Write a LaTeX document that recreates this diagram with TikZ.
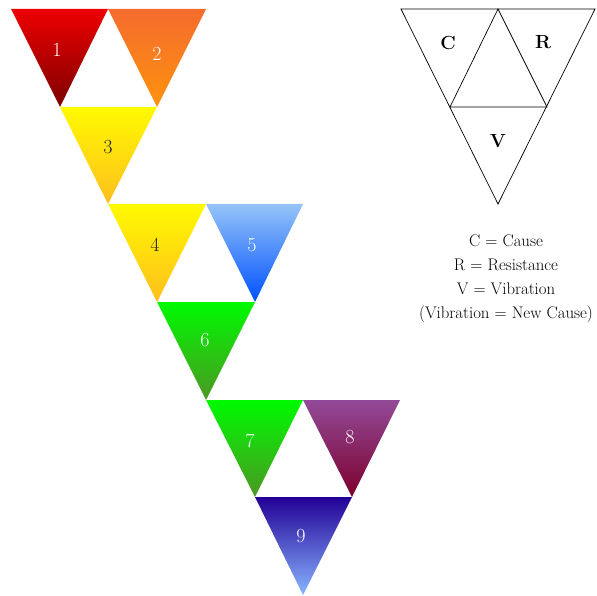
\documentclass[tikz,border=0pt]{standalone}
\usetikzlibrary{shadings}
\tikzset{
  tri/.style={shading=axis, shading angle=0},
  numw/.style={text=white, font=\fontsize{20}{22}\selectfont},
  numb/.style={text=black!85, font=\fontsize{20}{22}\selectfont},
  keyl/.style={font=\fontsize{19}{21}\selectfont\bfseries},
  legend/.style={font=\fontsize{16.8}{24}\selectfont, align=center},
  outline/.style={draw=black, line width=0.7pt, line join=miter}
}
\begin{document}
\begin{tikzpicture}[x=1pt,y=-1pt]
\useasboundingbox (0,0) rectangle (597,596);
% coordinates of triangle rows
\coordinate (a1) at (11,9);   \coordinate (a2) at (108,9);  \coordinate (a3) at (206,9);
\coordinate (b1) at (60,107); \coordinate (b2) at (157,107);
\coordinate (c1) at (108,204);\coordinate (c2) at (206,204);\coordinate (c3) at (303,204);
\coordinate (d1) at (157,302);\coordinate (d2) at (255,302);
\coordinate (e1) at (206,400);\coordinate (e2) at (303,400);\coordinate (e3) at (400,400);
\coordinate (f1) at (255,497);\coordinate (f2) at (352,497);
\coordinate (g1) at (303,595);
% triangles
\path[tri, top color={rgb,255:red,238;green,0;blue,0}, bottom color={rgb,255:red,125;green,0;blue,0}] (a1) -- (a2) -- (b1) -- cycle;
\path[tri, top color={rgb,255:red,244;green,108;blue,46}, bottom color={rgb,255:red,255;green,146;blue,14}] (a2) -- (a3) -- (b2) -- cycle;
\path[tri, top color={rgb,255:red,255;green,250;blue,0}, bottom color={rgb,255:red,255;green,190;blue,30}] (b1) -- (b2) -- (c1) -- cycle;
\path[tri, top color={rgb,255:red,255;green,250;blue,0}, bottom color={rgb,255:red,255;green,190;blue,30}] (c1) -- (c2) -- (d1) -- cycle;
\path[tri, top color={rgb,255:red,150;green,196;blue,248}, bottom color={rgb,255:red,0;green,80;blue,255}] (c2) -- (c3) -- (d2) -- cycle;
\path[tri, top color={rgb,255:red,0;green,250;blue,0}, bottom color={rgb,255:red,76;green,152;blue,36}] (d1) -- (d2) -- (e1) -- cycle;
\path[tri, top color={rgb,255:red,0;green,250;blue,0}, bottom color={rgb,255:red,76;green,152;blue,36}] (e1) -- (e2) -- (f1) -- cycle;
\path[tri, top color={rgb,255:red,146;green,74;blue,152}, bottom color={rgb,255:red,125;green,0;blue,45}] (e2) -- (e3) -- (f2) -- cycle;
\path[tri, top color={rgb,255:red,34;green,0;blue,150}, bottom color={rgb,255:red,136;green,180;blue,255}] (f1) -- (f2) -- (g1) -- cycle;
% numbers
\node[numw] (n1) at (57,50) {1};
\node[numw] (n2) at (157,54) {2};
\node[numb] (n3) at (108,147) {3};
\node[numb] (n4) at (155,245) {4};
\node[numw] (n5) at (252,245) {5};
\node[numw] (n6) at (205,340) {6};
\node[numw] (n7) at (250,441) {7};
\node[numw] (n8) at (350,437) {8};
\node[numw] (n9) at (301,536) {9};
% key diagram
\coordinate (k1) at (401,9); \coordinate (k2) at (498,9); \coordinate (k3) at (595,9);
\coordinate (k4) at (450,107); \coordinate (k5) at (547,107); \coordinate (k6) at (498,204);
\draw[outline] (k1) -- (k3) -- (k6) -- cycle;
\draw[outline] (k2) -- (k4) -- (k5) -- cycle;
\node[keyl] (kc) at (448,43) {C};
\node[keyl] (kr) at (543,42) {R};
\node[keyl] (kv) at (498,141) {V};
% legend
\node[legend] (leg) at (506,279) {C = Cause\\R = Resistance\\V = Vibration\\(Vibration = New Cause)};
\end{tikzpicture}
\end{document}
